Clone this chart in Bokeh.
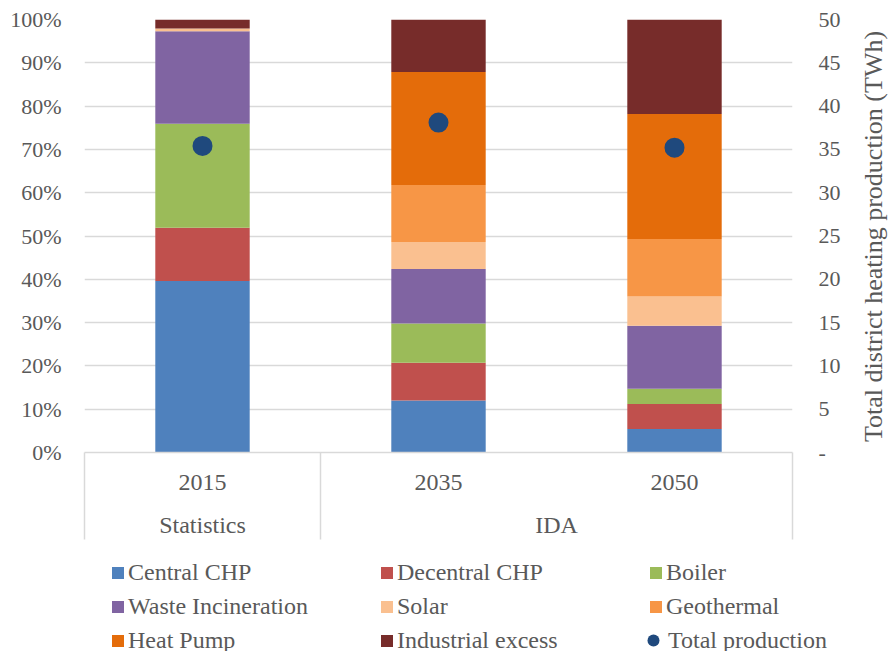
import math
from bokeh.plotting import figure
from bokeh.layouts import column, row
from bokeh.models import (Range1d, LinearAxis, FixedTicker, PrintfTickFormatter, Legend,
                          LegendItem, Grid, ColumnDataSource)
from bokeh.core.properties import value
from bokeh.embed import file_html
from bokeh.resources import INLINE

# ---------------- data ----------------
years = ["2015", "2035", "2050"]
groups = ["Statistics", "IDA", "IDA"]
sources = ["Central CHP", "Decentral CHP", "Boiler", "Waste Incineration",
           "Solar", "Geothermal", "Heat Pump", "Industrial excess"]
central_chp = [39.6, 12.0, 5.4]
decentral_chp = [12.3, 8.7, 5.8]
boiler = [24.0, 9.1, 3.5]
waste_incineration = [21.4, 12.6, 14.6]
solar = [0.6, 6.2, 6.7]
geothermal = [0.0, 13.2, 13.3]
heat_pump = [0.0, 26.1, 28.9]
industrial_excess = [2.1, 12.1, 21.8]
total_production = [35.4, 38.1, 35.2]   # TWh
pct_ticks = list(range(0, 101, 10))
twh_ticks = list(range(0, 51, 5))
total_label = "Total production"
right_title = "Total district heating production (TWh)"

colors = ["#4F81BD", "#C0504D", "#9BBB59", "#8064A2",
          "#FAC090", "#F79646", "#E46C0A", "#772C2A"]
dot_color = "#1F497D"
text_color = "#595959"
grid_color = "#D9D9D9"
FONT = "Liberation Serif"

# ---------------- layout constants (pixels) ----------------
W, H = 890, 651
MAIN_W = 862          # main chart width, the rest holds the right title
MAIN_H = 540          # main chart incl. category band
PLOT_L, PLOT_R, PLOT_T, PLOT_B = 84, 792, 19, 453
BAND = MAIN_H - PLOT_B

n = len(years)
slot = [i + 0.5 for i in range(n)]          # category slot centres
series = [central_chp, decentral_chp, boiler, waste_incineration,
          solar, geothermal, heat_pump, industrial_excess]
data = {"x": slot, "year": years, "total": total_production}
for name, vals in zip(sources, series):
    data[name] = vals
src = ColumnDataSource(data)

bounds = [0] + [i for i in range(1, n) if groups[i] != groups[i - 1]] + [n]
group_labels = {}
for a, b in zip(bounds[:-1], bounds[1:]):
    group_labels[(a + b) / 2] = groups[a]
year_labels = {c: y for c, y in zip(slot, years)}


def bare_fig(**kw):
    f = figure(output_backend="svg", toolbar_location=None,
               x_axis_location=None, y_axis_location=None,
               outline_line_color=None, background_fill_color="white",
               border_fill_color="white", **kw)
    f.center = []
    f.frame_align = False
    return f


# ---------------- main chart ----------------
p = bare_fig(width=MAIN_W, height=MAIN_H,
             x_range=Range1d(0, n), y_range=Range1d(0, 100),
             min_border_left=PLOT_L, min_border_right=MAIN_W - PLOT_R,
             min_border_top=PLOT_T, min_border_bottom=BAND)
p.extra_y_ranges = {"twh": Range1d(0, 50)}

p.add_layout(Grid(dimension=1, ticker=FixedTicker(ticks=pct_ticks),
                  grid_line_color=grid_color, grid_line_width=1.5))

bars = p.vbar_stack(sources, x="x", width=0.4, color=colors,
                    line_color=None, source=src)
dots = p.scatter(x="x", y="total", y_range_name="twh", size=20,
                 marker="circle", color=dot_color, line_color=None, source=src)


def style_labels(ax, size="22px"):
    ax.axis_line_color = None
    ax.major_tick_line_color = None
    ax.minor_tick_line_color = None
    ax.major_tick_out = 0
    ax.major_tick_in = 0
    ax.minor_tick_out = 0
    ax.minor_tick_in = 0
    ax.major_label_text_font = FONT
    ax.major_label_text_font_size = size
    ax.major_label_text_color = text_color


ly = LinearAxis(ticker=FixedTicker(ticks=pct_ticks),
                formatter=PrintfTickFormatter(format="%d%%"))
style_labels(ly)
ly.major_label_standoff = 23
p.add_layout(ly, "left")

ry = LinearAxis(y_range_name="twh", ticker=FixedTicker(ticks=twh_ticks),
                major_label_overrides={0: "-"})
style_labels(ry)
ry.major_label_standoff = 26
p.add_layout(ry, "right")

# year axis: labels at slot centres, minor ticks draw the category box lines
yx = LinearAxis(ticker=FixedTicker(ticks=slot, minor_ticks=bounds),
                major_label_overrides=year_labels)
style_labels(yx, "24px")
yx.axis_line_color = grid_color
yx.axis_line_width = 1.5
yx.minor_tick_line_color = grid_color
yx.minor_tick_line_width = 1.5
yx.minor_tick_out = BAND
yx.major_label_standoff = 22 - BAND
p.add_layout(yx, "below")

# group axis
gx = LinearAxis(ticker=FixedTicker(ticks=list(group_labels.keys()), minor_ticks=[]),
                major_label_overrides=group_labels)
style_labels(gx, "24px")
gx.major_label_standoff = 19
p.add_layout(gx, "below")

# ---------------- right title ----------------
t = bare_fig(width=W - MAIN_W, height=MAIN_H,
             x_range=Range1d(0, W - MAIN_W), y_range=Range1d(MAIN_H, 0),
             min_border=0, min_border_left=0, min_border_right=0,
             min_border_top=0, min_border_bottom=0)
t.text(x=[873 - MAIN_W], y=[(PLOT_T + PLOT_B) / 2], text=[right_title], angle=math.pi / 2,
       text_align="center", text_baseline="middle", text_font=value(FONT),
       text_font_size="26px", text_color=text_color)

# ---------------- legend band ----------------
LEG_H = H - MAIN_H
q = bare_fig(width=W, height=LEG_H, x_range=Range1d(0, n), y_range=Range1d(0, 100),
             min_border=0, min_border_left=0, min_border_right=0,
             min_border_top=0, min_border_bottom=0)
# hidden copies of the series: only their styles are shown by the legend
qbars = q.vbar_stack(sources, x="x", width=0.4, color=colors, line_color=None,
                     source=src, visible=False)
qdots = q.scatter(x="x", y="total", size=20, marker="circle", color=dot_color,
                  line_color=None, source=src, visible=False)

items = [LegendItem(label=s, renderers=[r]) for s, r in zip(sources, qbars)]
leg = Legend(items=items, location=(110, -6), orientation="horizontal", ncols=3,
             glyph_width=15, glyph_height=15, label_standoff=3, label_width=251,
             label_height=34, spacing=0, padding=0, margin=0,
             border_line_color=None, background_fill_alpha=0,
             inactive_fill_alpha=0,
             label_text_font=FONT, label_text_font_size="24px",
             label_text_color=text_color)
q.add_layout(leg)

leg2 = Legend(items=[LegendItem(label=total_label, renderers=[qdots])],
              location=(638, -6), glyph_width=30, glyph_height=30,
              label_standoff=0, label_height=34, spacing=0, padding=0, margin=0,
              border_line_color=None, background_fill_alpha=0,
              inactive_fill_alpha=0,
              label_text_font=FONT, label_text_font_size="24px",
              label_text_color=text_color)
q.add_layout(leg2)

layout = column(row(p, t, spacing=0), q, spacing=0)
open("out.html", "w").write(file_html(layout, INLINE))
